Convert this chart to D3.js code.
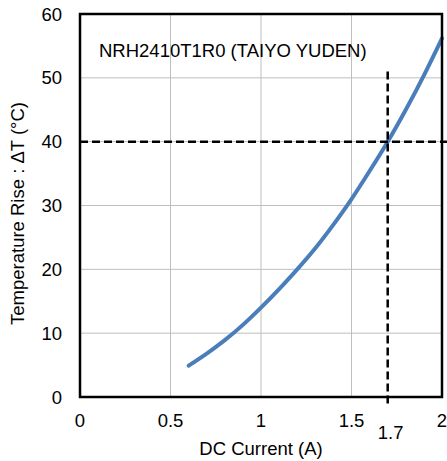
<!DOCTYPE html>
<html>
<head>
<meta charset="utf-8">
<script src="https://cdn.jsdelivr.net/npm/d3@7"></script>
<style>
  html, body { margin: 0; padding: 0; background: #fff; }
  svg { display: block; font-family: "Liberation Sans", Arial, sans-serif; }
</style>
</head>
<body>
<div id="chart"></div>
<script>
// data
const current = [0.6, 0.7, 0.8, 0.9, 1.0, 1.1, 1.2, 1.3, 1.4, 1.5, 1.6, 1.7, 1.8, 1.9, 2.0];
const tempRise = [4.9, 6.8, 8.9, 11.3, 14.0, 16.9, 20.0, 23.3, 27.0, 31.0, 35.4, 40.0, 45.0, 50.4, 56.2];
const xTicks = [0, 0.5, 1, 1.5, 2];
const yTicks = [0, 10, 20, 30, 40, 50, 60];
const ratedCurrent = 1.7;
const ratedRise = 40;
const partName = "NRH2410T1R0 (TAIYO YUDEN)";

const svgWidth = 447, svgHeight = 461;
const margin = { top: 14, right: 5, bottom: 64, left: 80 },
  width = svgWidth - margin.left - margin.right,
  height = svgHeight - margin.top - margin.bottom;

const svg = d3.select("#chart").append("svg")
    .attr("width", svgWidth)
    .attr("height", svgHeight);

const g = svg.append("g")
    .attr("transform", "translate(" + margin.left + "," + margin.top + ")");

const x = d3.scaleLinear().domain([0, 2]).range([0, width]);
const y = d3.scaleLinear().domain([0, 60]).range([height, 0]);

// gridlines
g.append("g")
    .selectAll("line.vgrid")
    .data(xTicks.slice(1, -1))
    .join("line")
      .attr("x1", d => x(d)).attr("x2", d => x(d))
      .attr("y1", 0).attr("y2", height)
      .attr("stroke", "#bfbfbf").attr("stroke-width", 1);

g.append("g")
    .selectAll("line.hgrid")
    .data(yTicks.slice(1, -1))
    .join("line")
      .attr("x1", 0).attr("x2", width)
      .attr("y1", d => y(d)).attr("y2", d => y(d))
      .attr("stroke", "#bfbfbf").attr("stroke-width", 1);

// tick labels
const fs = 18.5;
g.append("g")
    .selectAll("text")
    .data(yTicks)
    .join("text")
      .attr("x", -18)
      .attr("y", d => y(d))
      .attr("dy", "0.36em")
      .attr("text-anchor", "end")
      .attr("font-size", fs)
      .attr("fill", "#000")
      .text(d => d);

g.append("g")
    .selectAll("text")
    .data(xTicks)
    .join("text")
      .attr("x", d => x(d))
      .attr("y", height + 30)
      .attr("text-anchor", "middle")
      .attr("font-size", fs)
      .attr("fill", "#000")
      .text(d => d);

// rated current label under the axis
g.append("text")
    .attr("x", x(ratedCurrent) + 3)
    .attr("y", height + 42)
    .attr("text-anchor", "middle")
    .attr("font-size", fs)
    .text(ratedCurrent);

// axis titles
svg.append("text")
    .attr("x", margin.left + width / 2)
    .attr("y", svgHeight - 6)
    .attr("text-anchor", "middle")
    .attr("font-size", fs)
    .text("DC Current (A)");

svg.append("text")
    .attr("transform", "translate(24," + (margin.top + height / 2 + 8) + ") rotate(-90)")
    .attr("text-anchor", "middle")
    .attr("font-size", fs)
    .text("Temperature Rise : ΔT (°C)");

// part name
g.append("text")
    .attr("x", 19)
    .attr("y", 43)
    .attr("font-size", fs)
    .text(partName);

// the curve
const valueline = d3.line()
    .x((d, i) => x(current[i]))
    .y(d => y(d))
    .curve(d3.curveNatural);

g.append("path")
    .datum(tempRise)
    .attr("fill", "none")
    .attr("stroke", "#4a7ebb")
    .attr("stroke-width", 4)
    .attr("stroke-linecap", "round")
    .attr("d", valueline);

// dashed guide lines
g.append("line")
    .attr("x1", x(0)).attr("x2", svgWidth - margin.left)
    .attr("y1", y(ratedRise)).attr("y2", y(ratedRise))
    .attr("stroke", "#000").attr("stroke-width", 2.5)
    .attr("stroke-dasharray", "8,4");

g.append("line")
    .attr("x1", x(ratedCurrent)).attr("x2", x(ratedCurrent))
    .attr("y1", y(51)).attr("y2", height + 10)
    .attr("stroke", "#000").attr("stroke-width", 2.5)
    .attr("stroke-dasharray", "8,4");

// frame
g.append("rect")
    .attr("x", 0).attr("y", 0)
    .attr("width", width).attr("height", height)
    .attr("fill", "none")
    .attr("stroke", "#000")
    .attr("stroke-width", 2.5);
</script>
</body>
</html>
